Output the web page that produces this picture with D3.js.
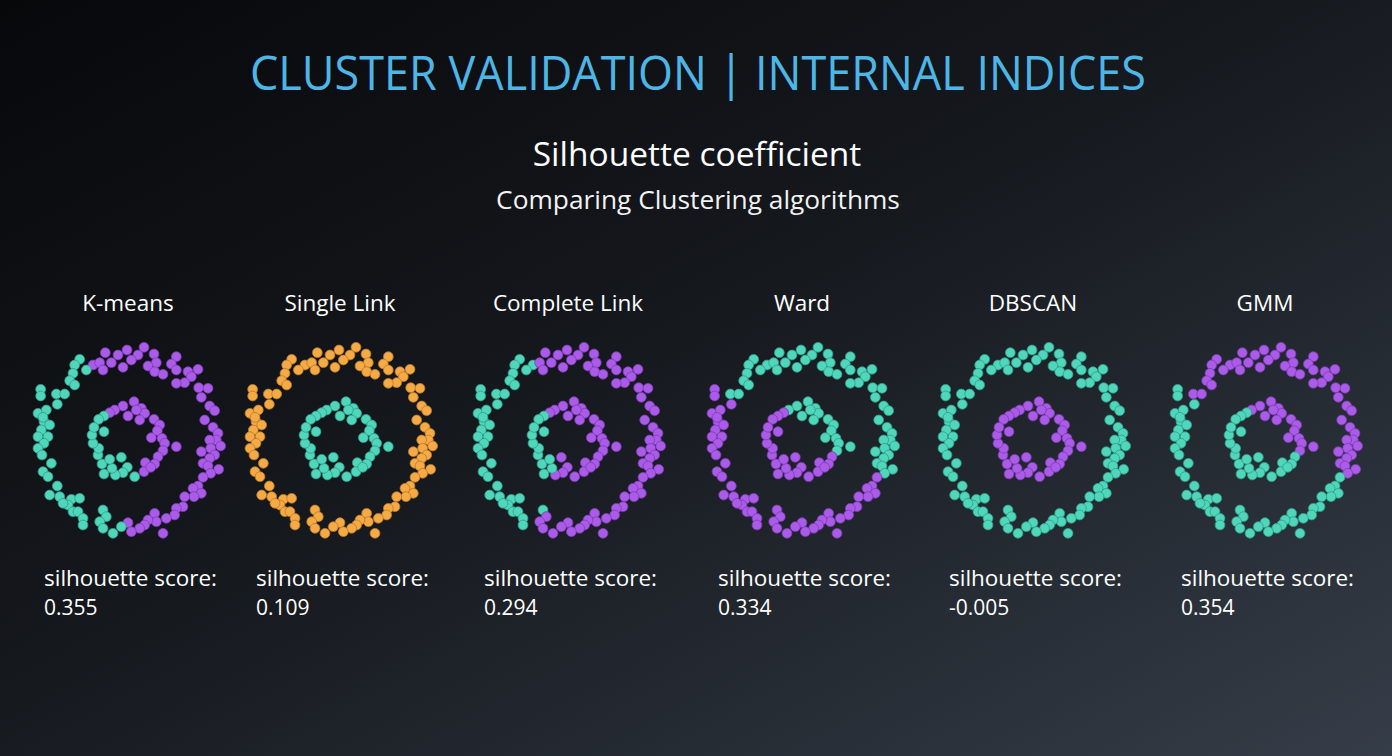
<!DOCTYPE html>
<html><head><meta charset="utf-8">
<script src="https://cdn.jsdelivr.net/npm/d3@7"></script>
<style>
html,body{margin:0;padding:0;background:#111318;}
svg{display:block;}
text{font-family:"Open Sans","Noto Sans",sans-serif;}
</style></head>
<body><svg id="chart" width="1392" height="756"></svg>
<script>
// ---------- DATA ----------
const titleText = "CLUSTER VALIDATION | INTERNAL INDICES";
const subtitleText = "Silhouette coefficient";
const subtitle2Text = "Comparing Clustering algorithms";
const algorithms = ["K-means", "Single Link", "Complete Link", "Ward", "DBSCAN", "GMM"];
const scores = ["0.355", "0.109", "0.294", "0.334", "-0.005", "0.354"];

// shared two-ring dataset (outer ring then inner ring)
const pointsX = [
 0.48,-0.03,-0.68,-0.30,0.30,0.78,1.45,-1.45,-1.60,-1.05,
 -0.85,-0.50,0.10,0.85,1.30,-1.25,-0.75,-0.15,0.60,0.80,
 1.05,1.45,1.80,2.10,-1.65,-1.75,-1.60,1.90,1.70,1.45,
 2.12,2.40,-2.62,-2.62,-2.15,-1.90,2.20,-2.12,2.45,2.60,
 -2.70,-2.45,-2.52,-2.35,2.30,2.55,-2.60,-2.70,-2.40,-2.52,
 -2.70,2.70,2.65,2.45,2.78,2.48,2.20,-2.58,-2.30,2.60,
 2.45,2.25,2.40,2.72,2.48,-2.55,-2.40,2.25,-2.12,2.10,
 1.95,-2.35,-2.05,2.20,1.98,1.70,-1.70,-1.45,-1.80,-1.95,
 -1.65,-1.50,-1.35,1.65,1.45,1.40,1.15,0.80,-0.75,-0.65,
 -0.85,-0.75,-1.35,0.85,0.60,0.50,0.35,0.00,0.10,-0.20,
 -0.45,1.05,-2.55,
 0.18,0.40,0.50,0.25,-0.15,-0.40,-0.55,-0.72,-0.88,0.00,
 0.35,0.78,0.95,0.88,0.70,1.02,1.10,1.05,1.45,0.90,
 0.80,0.52,0.48,0.20,-0.02,-0.20,-0.15,-0.38,-0.48,-0.72,
 -0.78,-0.55,-0.90,-0.88,-1.05,-1.08,-0.72,-1.02,0.68
];
const pointsY = [
 2.78,2.70,2.62,2.55,2.55,2.58,2.50,2.42,2.25,2.25,
 2.32,2.32,2.40,2.32,2.28,2.10,2.10,2.18,2.22,2.05,
 1.97,2.10,2.05,2.12,2.00,1.78,1.65,1.90,1.72,1.70,
 1.57,1.55,1.52,1.32,1.38,1.38,1.28,1.07,1.02,0.88,
 0.80,0.90,0.55,0.45,0.60,0.38,0.30,0.10,0.10,-0.10,
 -0.25,0.20,0.00,0.00,-0.18,-0.25,-0.35,-0.45,-0.70,-0.45,
 -0.55,-0.70,-0.78,-0.88,-1.00,-0.95,-1.10,-1.12,-1.38,-1.38,
 -1.45,-1.65,-1.70,-1.60,-1.70,-1.70,-1.78,-1.75,-1.95,-1.90,
 -2.15,-2.15,-2.35,-2.00,-2.05,-2.25,-2.35,-2.20,-2.10,-2.30,
 -2.45,-2.65,-2.55,-2.45,-2.40,-2.55,-2.65,-2.48,-2.75,-2.60,
 -2.80,-2.80,0.68,
 1.15,0.95,0.80,0.90,1.02,0.90,0.82,0.72,0.62,0.72,
 0.60,0.62,0.45,0.28,0.07,0.05,-0.10,-0.32,-0.20,-0.50,
 -0.72,-0.68,-0.95,-1.10,-0.82,-0.52,-0.98,-1.05,-0.85,-1.02,
 -0.72,-0.58,-0.45,-0.25,-0.10,0.15,0.25,0.38,-0.82
];

// cluster label per point for each algorithm (T = teal, P = purple, O = orange)
const labelsKMeans   = "PPPPPPPTTP"+"PPPPPTPPPP"+"PPPPTTTPPP"+"PPTTTTPTPP"+"TTTTPPTTTT"+"TPPPPPPTTP"+"PPPPPTTPTP"+"PTTPPPTTTT"+"TTTPPPPPTT"+"TTTPPPPPPT"+"TPT"
                     + "PPPPPPPTTP"+"PPPPPPPPPP"+"PPPTTTTTTT"+"TTTTTTTTP";
const labelsSingle   = "OOOOOOOOOO".repeat(10)+"OOO"
                     + "TTTTTTTTTT"+"TTTTTTTTTT"+"TTTTTTTTTT"+"TTTTTTTTT";
const labelsComplete = "PPPPPPPTTT"+"PPPPPTPPPP"+"PPPPTTTPPP"+"PPTTTTPTPP"+"TTTTPPTTTT"+"TPPPPPPTTP"+"PPPPPTTPTP"+"PTTPPPTTTT"+"TTTPPPPPTP"+"PPTPPPPPPP"+"PPT"
                     + "PPPPPPPTTP"+"PPPPPPPPPP"+"PPPPPPPPTT"+"TTTTTTTTP";
const labelsWard     = "TTTTTTTTTT"+"TTTTTTTTTT"+"TTTTTTTTTT"+"TTPPTTTPTT"+"PPPPTTPPPP"+"PTTTTTTPPT"+"TTTTTPPPPP"+"PPPPPPPPPP"+"PPPPPPPPPP"+"PPPPPPPPPP"+"PPP"
                     + "TTTTTTPPPT"+"TTTTTTTTTP"+"PPPPPPPPPP"+"PPPPPPPPP";
const labelsDBSCAN   = "TTTTTTTTTT".repeat(10)+"TTT"
                     + "PPPPPPPPPP"+"PPPPPPPPPP"+"PPPPPPPPPP"+"PPPPPPPPP";
const labelsGMM      = "PPPPPPPPPP"+"PPPPPPPPPP"+"PPPPPPPPPP"+"PPTTPPPTPP"+"TTTTPPTTTT"+"TPPPPPPTTP"+"PPPPPTTTTT"+"TTTTTTTTTT"+"TTTTTTTTTT"+"TTTTTTTTTT"+"TTT"
                     + "PPPPPPTTTP"+"PPPPPPPPPT"+"TTTTTTTTTT"+"TTTTTTTTT";
const allLabels = [labelsKMeans, labelsSingle, labelsComplete, labelsWard, labelsDBSCAN, labelsGMM];

// ---------- LAYOUT / STYLE ----------
const W = 1392, H = 756;
const panelCenters = [128, 340, 568, 802, 1033, 1265];
const panelCY = 440, panelHalf = 100;
const fillColor = d3.scaleOrdinal().domain(["T","P","O"]).range(["#4fd6bb","#aa5ce8","#f5aa45"]);
const strokeColor = d3.scaleOrdinal().domain(["T","P","O"]).range(["#2f9e88","#7d3bb5","#b97a2a"]);

const svg = d3.select("#chart");
const defs = svg.append("defs");
const grad = defs.append("linearGradient").attr("id","bg")
  .attr("x1","0%").attr("y1","0%").attr("x2","100%").attr("y2","100%");
grad.append("stop").attr("offset","0%").attr("stop-color","#07080a");
grad.append("stop").attr("offset","45%").attr("stop-color","#15181d");
grad.append("stop").attr("offset","100%").attr("stop-color","#353d48");
svg.append("rect").attr("width",W).attr("height",H).attr("fill","url(#bg)");

svg.append("text").attr("x",698).attr("y",90).attr("text-anchor","middle")
  .attr("fill","#4cb6e6").attr("font-size",47).attr("font-weight",400)
  .attr("textLength",896).attr("lengthAdjust","spacingAndGlyphs").text(titleText);
svg.append("text").attr("x",697).attr("y",166).attr("text-anchor","middle")
  .attr("fill","#ffffff").attr("font-size",33.5).text(subtitleText);
svg.append("text").attr("x",698).attr("y",209).attr("text-anchor","middle")
  .attr("fill","#f2f2f2").attr("font-size",26.3).text(subtitle2Text);

const pts = pointsX.map((x,i)=>({x, y: pointsY[i], i}));

algorithms.forEach((name, k) => {
  const cx = panelCenters[k];
  const xs = d3.scaleLinear().domain([-3,3]).range([cx-panelHalf, cx+panelHalf]);
  const ys = d3.scaleLinear().domain([-3,3]).range([panelCY+panelHalf, panelCY-panelHalf]);
  const g = svg.append("g");
  g.append("text").attr("x",cx).attr("y",311).attr("text-anchor","middle")
    .attr("fill","#ffffff").attr("font-size",22.5).text(name);
  const lab = allLabels[k];
  g.selectAll("circle").data(pts).join("circle")
    .attr("cx",d=>xs(d.x)).attr("cy",d=>ys(d.y)).attr("r",4.9)
    .attr("fill",d=>fillColor(lab[d.i]))
    .attr("stroke",d=>strokeColor(lab[d.i])).attr("stroke-width",0.8);
  g.append("text").attr("x",cx-84).attr("y",586)
    .attr("fill","#ffffff").attr("font-size",21)
    .attr("textLength",173).attr("lengthAdjust","spacingAndGlyphs")
    .text("silhouette score:");
  g.append("text").attr("x",cx-84).attr("y",615)
    .attr("fill","#ffffff").attr("font-size",21).text(scores[k]);
});
</script></body></html>
